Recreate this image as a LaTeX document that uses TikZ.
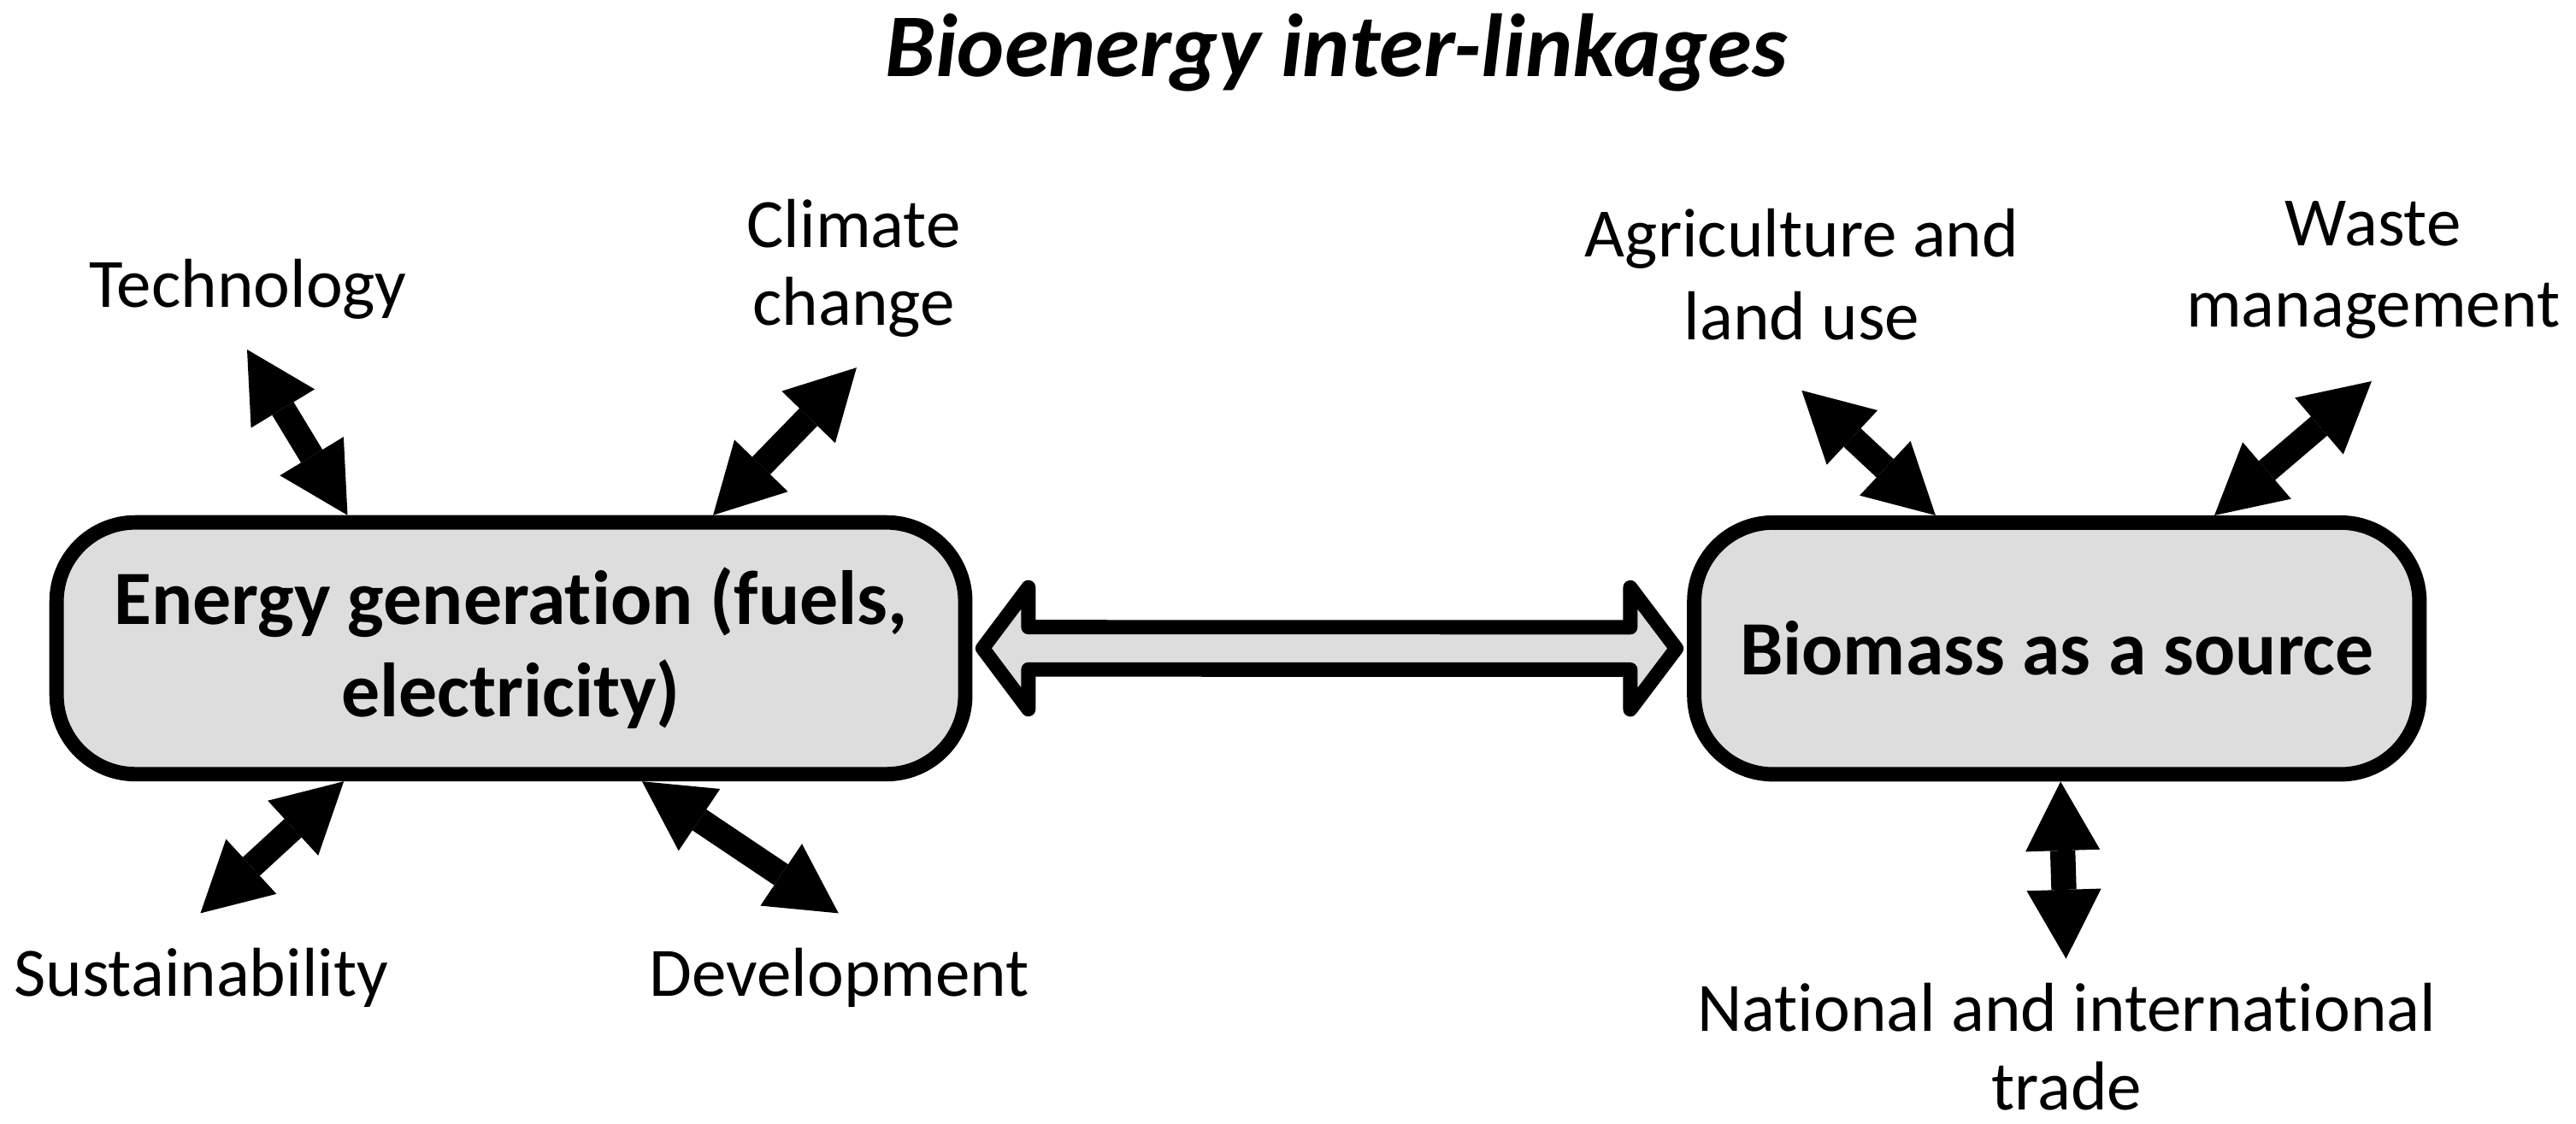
\documentclass[tikz,border=0pt]{standalone}
\usepackage{fontspec}
\setmainfont{Carlito}[Ligatures=NoCommon]
\usetikzlibrary{arrows.meta,calc}
\definecolor{boxgray}{RGB}{221,221,221}
\begin{document}
\begin{tikzpicture}[x=0.01cm,y=-0.01cm,
  box/.style={draw, line width=2.5pt, fill=boxgray, rounded corners=0.48cm,
    minimum height=1.532cm, inner sep=0pt, align=center,
    font=\bfseries\fontsize{13.3pt}{16pt}\selectfont},
  lab/.style={anchor=base, align=center, inner sep=0pt},
  dbl/.style={line width=4.35pt,
    {Triangle[length=11.95pt,width=12.9pt,line width=0pt]}-{Triangle[length=11.95pt,width=12.9pt,line width=0pt]}},
  bigarr/.style={draw, line width=2.5pt, fill=boxgray, line join=round}]
\useasboundingbox (0,0) rectangle (1568,684);

% title
\node[lab, font=\bfseries\itshape\fontsize{15.5pt}{18pt}\selectfont] (title) at (813.3,46.8) {Bioenergy inter-linkages};

% boxes
\node[box, minimum width=5.528cm] (E) at (311,394.7) {Energy generation (fuels,\\electricity)};
\node[box, minimum width=4.412cm] (B) at (1252,394.8) {Biomass as a source};

% labels (base anchor = baseline of the last line)
\node[lab, font=\fontsize{12pt}{14pt}\selectfont] (lT) at (151,187) {Technology};
\node[lab, font=\fontsize{12pt}{13.4pt}\selectfont] (lC) at (519.7,197.8) {Climate\\change};
\node[lab, font=\fontsize{12pt}{14.4pt}\selectfont] (lA) at (1096.8,206.8) {Agriculture and\\land use};
\node[lab, font=\fontsize{12pt}{14.1pt}\selectfont] (lW) at (1444.5,199.2) {Waste\\management};
\node[lab, font=\fontsize{12pt}{14pt}\selectfont] (lS) at (122.5,606.3) {Sustainability};
\node[lab, font=\fontsize{12pt}{14pt}\selectfont] (lD) at (510.9,606.3) {Development};
\node[lab, font=\fontsize{12pt}{13.5pt}\selectfont] (lN) at (1258,675.6) {National and international\\trade};

% attachment points on the boxes
\coordinate (eT) at ($(E.north west)!0.323!(E.north east)$);
\coordinate (eC) at ($(E.north west)!0.719!(E.north east)$);
\coordinate (eS) at ($(E.south west)!0.319!(E.south east)$);
\coordinate (eD) at ($(E.south west)!0.642!(E.south east)$);
\coordinate (bA) at ($(B.north west)!0.336!(B.north east)$);
\coordinate (bW) at ($(B.north west)!0.713!(B.north east)$);
\coordinate (bN) at ($(B.south west)!0.505!(B.south east)$);

% free ends
\coordinate (tT) at (150.4,212.8);
\coordinate (tC) at (521.4,223.8);
\coordinate (tA) at (1096.7,237.7);
\coordinate (tW) at (1443.6,232.1);
\coordinate (tS) at (122,556);
\coordinate (tD) at (510.4,556);
\coordinate (tN) at (1257.6,583.7);

\draw[dbl] (tT) -- (eT);
\draw[dbl] (tC) -- (eC);
\draw[dbl] (tS) -- (eS);
\draw[dbl] (tD) -- (eD);
\draw[dbl] (tA) -- (bA);
\draw[dbl] (tW) -- (bW);
\draw[dbl] (tN) -- (bN);

% big double block arrow between the boxes
\coordinate (L) at ($(E.east)+(6.2,0)$);
\coordinate (R) at ($(B.west)+(-6.5,0)$);
\path[bigarr] (L) -- ++(27.8,-37.1) -- ++(0,24.2) -- ($(R)+(-28,-12.9)$) -- ++(0,-24.2)
  -- (R) -- ++(-28,37.1) -- ++(0,-24.2) -- ($(L)+(27.8,12.9)$) -- ++(0,24.2) -- cycle;
\end{tikzpicture}
\end{document}
